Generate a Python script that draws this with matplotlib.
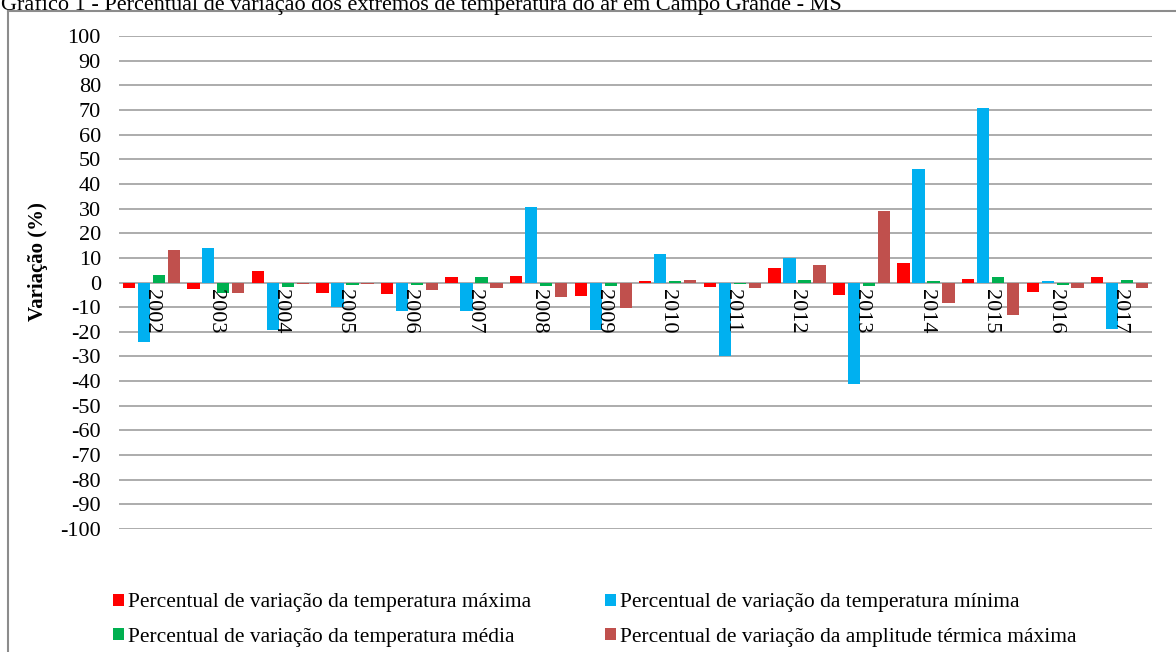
import matplotlib.pyplot as plt
import numpy as np
from matplotlib.lines import Line2D
from matplotlib.patches import Patch

plt.rcParams["font.family"] = ["Liberation Serif", "DejaVu Serif"]
plt.rcParams["axes.unicode_minus"] = False

years = ["2002", "2003", "2004", "2005", "2006", "2007", "2008", "2009",
         "2010", "2011", "2012", "2013", "2014", "2015", "2016", "2017"]
var_max = [-2.3, -2.7, 4.5, -4.1, -4.5, 2.3, 2.7, -5.3, 0.7, -1.9, 5.8, -5.0, 7.9, 1.5, -3.7, 2.3]
var_min = [-24.3, 13.8, -19.2, -9.8, -11.4, -11.4, 30.5, -19.2, 11.7, -29.8, 9.9, -41.0, 45.9, 70.7, 0.5, -19.0]
var_med = [3.0, -4.1, -1.9, -1.1, -1.1, 2.3, -1.4, -1.4, 0.5, -0.7, 0.9, -1.5, 0.5, 2.3, -1.1, 0.9]
var_amp = [13.0, -4.1, -0.7, -0.6, -3.1, -2.3, -5.7, -10.2, 1.1, -2.3, 7.0, 28.9, -8.4, -13.0, -2.4, -2.4]

labels = [
    "Percentual de variação da temperatura máxima",
    "Percentual de variação da temperatura mínima",
    "Percentual de variação da temperatura média",
    "Percentual de variação da amplitude térmica máxima",
]
colors = ["#FF0000", "#00B0F0", "#00B050", "#C0504D"]

W, H = 1176, 652
fig = plt.figure(figsize=(W / 100, H / 100), dpi=100)
fig.patch.set_facecolor("white")

ax = fig.add_axes([119 / W, 1 - 529 / H, (1152 - 119) / W, (529 - 36) / H])

x = np.arange(len(years))
slot = 0.232
width = 0.19
series = [var_max, var_min, var_med, var_amp]
handles = []
for k, (vals, c) in enumerate(zip(series, colors)):
    ax.bar(x + (k - 1.5) * slot, vals, width, color=c, zorder=3)
    handles.append(Patch(facecolor=c, edgecolor="none"))

ax.set_xlim(-0.5, len(years) - 0.5)
ax.set_ylim(-100, 100)
ax.set_yticks(np.arange(-100, 101, 10))
ax.tick_params(axis="y", length=0, labelsize=16, pad=13)
ax.set_xticks([])
ax.grid(axis="y", color="#A6A6A6", linewidth=1.3, zorder=0)
for s in ax.spines.values():
    s.set_visible(False)

for xi, yr in zip(x, years):
    ax.annotate(yr, (xi, 0), xytext=(0, -5), textcoords="offset points",
                rotation=270, ha="center", va="top", fontsize=16, zorder=4)

fig.text(38 / W, 1 - 262 / H, "Variação (%)", rotation=90, ha="center", va="center",
         fontsize=15, fontweight="bold")

fig.text(1 / W, 1 - 10 / H,
         "Gráfico 1 - Percentual de variação dos extremos de temperatura do ar em Campo Grande - MS",
         ha="left", va="baseline", fontsize=16)

# border of the chart area
fig.add_artist(Line2D([8 / W, 8 / W], [0, 1 - 11 / H], color="#8C8C8C", lw=1.5))
fig.add_artist(Line2D([8 / W, 1], [1 - 11 / H, 1 - 11 / H], color="#8C8C8C", lw=1.5))

order = [0, 2, 1, 3]
fig.legend([handles[i] for i in order], [labels[i] for i in order], ncol=2,
           loc="upper left", bbox_to_anchor=(94 / W, 1 - 574 / H),
           frameon=False, fontsize=15.5, handlelength=0.5, handleheight=0.5,
           handletextpad=0.2, columnspacing=3.4, labelspacing=0.72)

fig.savefig("out.png", dpi=100)
